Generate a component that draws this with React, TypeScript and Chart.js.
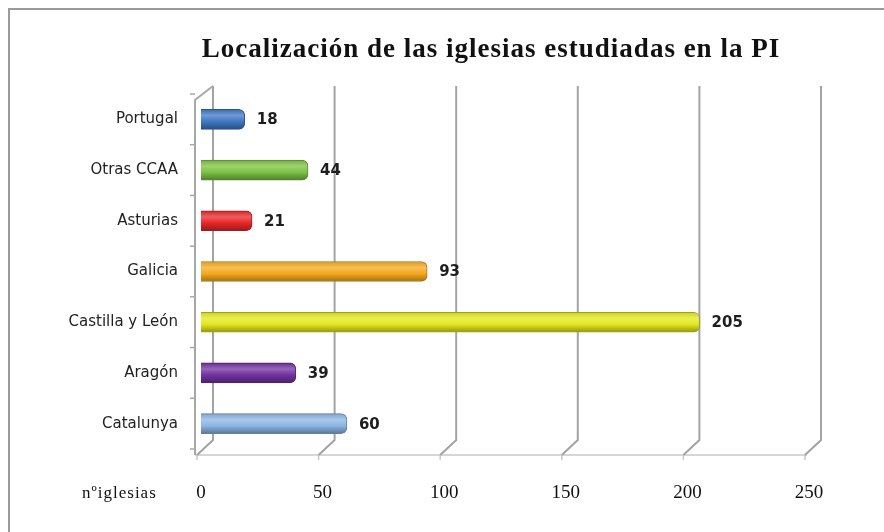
import React, { useEffect, useRef } from "react";
import { Chart, registerables } from "chart.js";

Chart.register(...registerables);

const categories = ["Portugal", "Otras CCAA", "Asturias", "Galicia", "Castilla y León", "Aragón", "Catalunya"];
const values = [18, 44, 21, 93, 205, 39, 60];
const barColors = ["#3f78c4", "#7ec244", "#e8282a", "#f5aa1e", "#e4e81e", "#7232a2", "#8cb6e6"];
const xTicks = [0, 50, 100, 150, 200, 250];
const titleText = "Localización de las iglesias estudiadas en la PI";
const axisTitle = "nºiglesias";

function shade(hex: string, f: number): string {
  const n = parseInt(hex.slice(1), 16);
  let r = (n >> 16) & 255, g = (n >> 8) & 255, b = n & 255;
  if (f >= 0) {
    r = Math.round(r + (255 - r) * f); g = Math.round(g + (255 - g) * f); b = Math.round(b + (255 - b) * f);
  } else {
    r = Math.round(r * (1 + f)); g = Math.round(g * (1 + f)); b = Math.round(b * (1 + f));
  }
  return `rgb(${r},${g},${b})`;
}

const framePlugin = {
  id: "frame3d",
  beforeDraw(chart: any) {
    const ctx = chart.ctx;
    ctx.save();
    ctx.fillStyle = "#ffffff";
    ctx.fillRect(0, 0, chart.width, chart.height);
    ctx.strokeStyle = "#9a9a9a";
    ctx.lineWidth = 2;
    ctx.beginPath();
    ctx.moveTo(9, chart.height);
    ctx.lineTo(9, 9);
    ctx.lineTo(chart.width, 9);
    ctx.stroke();
    ctx.restore();
  },
  beforeDatasetsDraw(chart: any) {
    const ctx = chart.ctx;
    const xs = chart.scales.x;
    const ys = chart.scales.y;
    const area = chart.chartArea;
    const backTop = area.top - 8;
    const backBottom = area.bottom - 9;
    const floorY = area.bottom + 6;
    const dxBack = 12;
    const dxFront = -4;
    ctx.save();
    ctx.strokeStyle = "#c9c9c9";
    ctx.lineWidth = 1.5;
    ctx.beginPath();
    ctx.moveTo(xs.getPixelForValue(0) + dxFront - 2, floorY);
    ctx.lineTo(xs.getPixelForValue(250) + dxFront + 2, floorY);
    ctx.stroke();
    xTicks.forEach((v) => {
      const xf = xs.getPixelForValue(v) + dxFront;
      ctx.beginPath();
      ctx.moveTo(xf, floorY);
      ctx.lineTo(xf, floorY + 5);
      ctx.stroke();
    });
    ctx.strokeStyle = "#a3a3a3";
    ctx.lineWidth = 2;
    xTicks.forEach((v) => {
      const xb = xs.getPixelForValue(v) + dxBack;
      const xf = xs.getPixelForValue(v) + dxFront;
      ctx.beginPath();
      ctx.moveTo(xb, backTop);
      ctx.lineTo(xb, backBottom);
      ctx.lineTo(xf, floorY);
      ctx.stroke();
    });
    const xl = xs.getPixelForValue(0) - 6;
    ctx.strokeStyle = "#a8a8a8";
    ctx.lineWidth = 2;
    ctx.beginPath();
    ctx.moveTo(xl, floorY);
    ctx.lineTo(xl, backTop + 14);
    ctx.lineTo(xs.getPixelForValue(0) + dxBack, backTop);
    ctx.stroke();
    ctx.lineWidth = 1.5;
    for (let i = 0; i <= categories.length; i++) {
      const y = ys.top + (ys.height / categories.length) * i;
      ctx.beginPath();
      ctx.moveTo(xl - 5, y);
      ctx.lineTo(xl, y);
      ctx.stroke();
    }
    ctx.restore();
  },
  afterDatasetsDraw(chart: any) {
    const ctx = chart.ctx;
    const meta = chart.getDatasetMeta(0);
    ctx.save();
    ctx.fillStyle = "#1e1e1e";
    ctx.font = "bold 15px 'DejaVu Sans'";
    ctx.textAlign = "left";
    ctx.textBaseline = "middle";
    meta.data.forEach((el: any, i: number) => {
      ctx.fillText(String(values[i]), el.x + 12, el.y + 1);
    });
    ctx.fillStyle = "#111";
    ctx.font = "bold 27px 'Liberation Serif'";
    (ctx as any).letterSpacing = "1px";
    ctx.textAlign = "center";
    ctx.fillText(titleText, 491, 50);
    ctx.font = "17px 'Liberation Serif'";
    (ctx as any).letterSpacing = "1px";
    ctx.textAlign = "left";
    ctx.fillText(axisTitle, 82, 494);
    (ctx as any).letterSpacing = "0px";
    ctx.restore();
  },
};

export default function App() {
  const ref = useRef<HTMLCanvasElement | null>(null);
  useEffect(() => {
    if (!ref.current) return;
    const chart = new Chart(ref.current, {
      type: "bar",
      data: {
        labels: categories,
        datasets: [
          {
            data: values,
            barThickness: 20,
            backgroundColor: (c: any) => {
              const base = barColors[c.dataIndex] || "#888";
              const ys = c.chart.scales?.y;
              if (!ys || !isFinite(ys.top)) return base;
              const y = ys.getPixelForValue(c.dataIndex);
              if (!isFinite(y)) return base;
              const g = c.chart.ctx.createLinearGradient(0, y - 10, 0, y + 10);
              g.addColorStop(0, shade(base, -0.1));
              g.addColorStop(0.3, shade(base, 0.25));
              g.addColorStop(0.6, base);
              g.addColorStop(1, shade(base, -0.35));
              return g;
            },
            borderColor: barColors.map((c) => shade(c, -0.3)),
            borderWidth: 1,
            borderSkipped: "left",
            borderRadius: { topRight: 6, bottomRight: 6, topLeft: 0, bottomLeft: 0 },
          } as any,
        ],
      },
      options: {
        indexAxis: "y",
        responsive: false,
        animation: false,
        events: [],
        layout: { padding: { top: 94, right: 75, bottom: 0, left: 0 } },
        plugins: {
          legend: { display: false },
          title: { display: false },
          tooltip: { enabled: false },
        },
        scales: {
          x: {
            min: 0,
            max: 250,
            afterBuildTicks: (scale: any) => {
              scale.ticks = xTicks.map((v) => ({ value: v }));
            },
            afterFit: (scale: any) => {
              scale.height = 83;
            },
            grid: { display: false, drawTicks: false },
            border: { display: false },
            ticks: {
              padding: 33,
              color: "#111",
              font: { family: "'Liberation Serif'", size: 19 },
            },
          },
          y: {
            afterFit: (scale: any) => {
              scale.width = 201;
            },
            grid: { display: false, drawTicks: false },
            border: { display: false },
            ticks: {
              padding: 23,
              color: "#222",
              font: { family: "'DejaVu Sans'", size: 15 },
            },
          },
        },
      },
      plugins: [framePlugin],
    });
    return () => chart.destroy();
  }, []);
  return (
    <div style={{ position: "fixed", left: 0, top: 0, width: 884, height: 532, background: "#fff" }}>
      <canvas ref={ref} width={884} height={532} style={{ display: "block" }} />
    </div>
  );
}
